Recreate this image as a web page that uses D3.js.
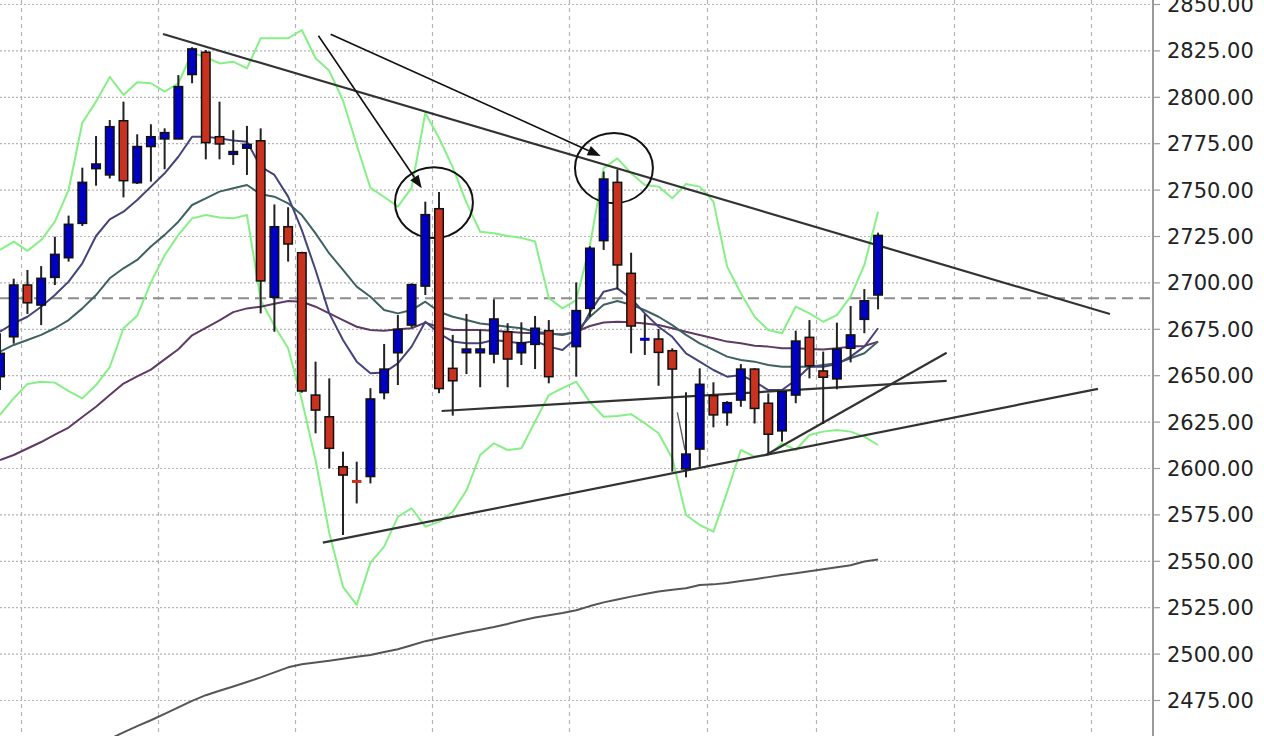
<!DOCTYPE html>
<html><head><meta charset="utf-8">
<script src="https://cdn.jsdelivr.net/npm/d3@7"></script>
<style>html,body{margin:0;padding:0;background:#fff;overflow:hidden}</style>
</head><body><svg id="c" width="1264" height="736"></svg>
<script>
// ---- data (index = trading session) ----
const open = [2649.2,2670.7,2698.6,2687.8,2702.7,2713.3,2731.8,2761.3,2757.9,2787.1,
2753.7,2773.2,2777.3,2777.3,2812,2824,2778.5,2769,2772.3,2776.3,
2692,2730,2716,2639.3,2627.6,2600.7,2593,2595.4,2640.6,2662.1,
2677,2698,2739.7,2653.7,2662.1,2662.1,2661.4,2673.4,2662.1,2666.6,
2674,null,2665.4,2686,2722.5,2753.9,2704.9,2669.2,2669.5,2663.2,
2599.5,2610.2,2639,2629.8,2636.6,2653.3,2634.9,2620,2639.3,2670.4,
2652.3,2648,2664.5,2680.1,2693.2];
const high = [2672.6,2702,2706.7,2708.8,2724.6,2736,2761.8,2778.9,2787.5,2797.4,
2779.8,2785.2,2783,2811.7,2826.7,2825.2,2797.4,2782,2784.3,2783,
2742,2740.5,2716.5,2657.3,2648.3,2608.8,2603.4,2643,2666.8,2682.4,
2699.5,2743.5,2748.7,2671.7,2683,2674.4,2690.9,2678,2678.5,2681.9,
2679.7,null,2700,2719.5,2759.7,2760.9,2716,2682.8,2674.9,2664.5,
2640.8,2653.7,2646.2,2636,2656,2653.8,2640.2,2641.5,2674,2679.7,
2662.7,2678.3,2687.3,2696.4,2726.8];
const low = [2642,2667,2683,2677,2698.6,2711.2,2730.4,2752.1,2756,2745.8,
2753,2754.3,2761,2777.3,2807.3,2766.3,2766.3,2763.3,2757.9,2683.3,
2673.4,2711.2,2640.6,2618.7,2599.8,2563.9,2580.9,2591.7,2637,2644.7,
2675.6,2693.2,2640.3,2628.2,2650.6,2643.5,2656.4,2643.5,2655.5,2653.3,
2645.6,null,2649.2,2681.5,2717.5,2696.3,2661.8,2660.9,2644.3,2598,
2595,2600.7,2621.9,2622.8,2633,2624,2607.9,2614.2,2634.9,2648.3,
2623.7,2642.4,2656.9,2672.6,2685.5];
const close = [2661.8,2698.6,2689,2702.2,2715.1,2731.3,2753.9,2763.8,2783.9,2754.8,
2773.2,2778.5,2780.7,2805.5,2825.8,2775.3,2774.6,2770.5,2774.4,2700.8,
2730,2720.7,2641.5,2631.2,2610.6,2596.2,2592.5,2637.2,2653.3,2674.7,
2698.8,2736.5,2642.8,2647,2664.1,2664.1,2680.3,2658.7,2667.5,2675.3,
2649.2,null,2684.8,2718.4,2755.7,2709.4,2676.5,2669.5,2662.3,2653.3,
2607.5,2645.1,2628.6,2635.2,2653.3,2632.1,2618.2,2641.1,2668.4,2655.1,
2648.9,2664.1,2671.7,2690.1,2725.3];

const bbUpper = [2717.5,2722,2717,2722.8,2732.7,2749.8,2786,2797.4,2810.7,2801,
2807.8,2807.3,2802.8,2807.3,2823.8,2821.3,2818,2818.9,2815.3,2831.5,
2831.5,2831.5,2836,2820.8,2814,2798,2774,2750.9,2746,2740.8,
2750.9,2791.3,2777.8,2762,2743,2727.3,2726.5,2725,2724,2722,
2691.6,2686,2690.5,2720,2761.5,2766.8,2758.8,2752.5,2751.6,2745.3,
2753,2751.6,2743.5,2708.5,2694.1,2681.5,2674.4,2672.6,2687,2683.3,
2678.8,2682.4,2692.3,2709.4,2738];
const bbLower = [2628.6,2637.6,2645.3,2646.5,2646,2641.4,2637.5,2644.7,2654.4,2675.3,
2682,2700,2714.6,2725.6,2734.5,2736.3,2735,2734.5,2736.3,2690.5,
2676.6,2664.5,2636.6,2604.3,2565,2536,2526.2,2549,2557.6,2573.7,
2578.3,2568.4,2571,2576.4,2588,2607,2613.3,2609.7,2610.6,2625,
2639.3,2643,2646.5,2635.5,2627.6,2628,2629,2624.1,2618.7,2605.2,
2574.7,2569.3,2565.7,2587,2609.7,2606.1,2607,2613.3,2609.7,2617.8,
2619.6,2620.5,2619.6,2616.9,2612.4];
const maFast = [2673.4,2678,2681.5,2686.9,2693.2,2700.4,2710.3,2725,2734,2738.1,
2744.4,2751.6,2758.8,2767.7,2778.5,2778.5,2777.6,2776.5,2775.8,2762.4,
2757.9,2746.2,2728.2,2706.7,2683.3,2669,2657.3,2651,2651.4,2656.4,
2665.4,2678.8,2672.6,2668.1,2667.2,2667.2,2669,2668.1,2667.2,2668.4,
2665.4,2663.6,2670,2684,2695,2696.8,2691.4,2683.3,2676.1,2670.7,
2661.8,2657.3,2652.8,2649.2,2650.1,2646.5,2642,2642,2647.4,2654.6,
2654.6,2656,2660,2665.4,2675.3];
const maMid = [2662.7,2666.3,2669,2671.7,2675.3,2679.7,2686,2693.2,2702.2,2707.6,
2712.1,2719.3,2725.6,2732.7,2741.7,2745.3,2748.9,2750.7,2752.5,2747.5,
2746.2,2742.6,2736.3,2726.4,2715.6,2706.7,2697.7,2692.3,2685.1,2683.3,
2685.1,2689.6,2684.2,2681.5,2679.7,2677.9,2677,2676.1,2675.3,2673.4,
2672.6,2671.7,2673.4,2681.5,2688,2690,2688,2685,2681.5,2677,
2671.7,2667.2,2663.6,2660,2658.2,2657.3,2655.5,2654.6,2654.6,2654.6,
2655.5,2656.4,2659.1,2661.8,2668.1];
const maSlow = [2604.3,2607,2610.5,2614,2618,2621.8,2627.5,2633,2639.3,2645.5,
2649.4,2653,2658.5,2664,2671.5,2675.5,2679.5,2684,2686,2686.9,
2688.5,2690,2689.6,2686.9,2683.3,2679.7,2676.1,2674.4,2674,2674.7,
2675.3,2678.3,2675.8,2674.4,2674.4,2674.4,2674,2673.4,2672.9,2672.6,
2672.2,2672,2673.4,2676.5,2678.4,2678.8,2678.5,2677.9,2677,2675.3,
2673.4,2671.7,2669.9,2668.1,2667.2,2665.9,2665.4,2664.5,2664.5,2664.1,
2663.9,2664.5,2665.4,2665.7,2668.1];
const maLong = [null,null,null,null,null,null,null,null,
2454,2457.6,2460.9,2464.1,2467.5,2471,2474.5,2477.6,2480,2482.3,
2484.7,2487.2,2489.9,2492.6,2494.3,2495.2,2496.2,2497.2,2498.3,2499.3,
2500.9,2502.3,2504.5,2506.7,2508.3,2509.9,2511.5,2512.9,2514.3,2516,
2517.8,2519.5,2520.7,2521.9,2523.4,2525.6,2527.6,2529.2,2530.7,2532.1,
2533.5,2534.4,2535.2,2537,2537.3,2538,2539.1,2540.1,2541.2,2542.3,
2543.3,2544.4,2545.5,2546.5,2547.6,2549.6,2550.7];

const yTicks = [2475,2500,2525,2550,2575,2600,2625,2650,2675,2700,2725,2750,2775,2800,2825,2850];
const xGridIdx = [1.5,11.5,21.5,31.5,41.5,51.5,59.5,69.5,79.5];
const refLevel = 2691.4;
// hand-drawn annotations in data coords [index, price]
const trendLines = [
  [[11.88,2833.8],[80.9,2683.0]],
  [[23.53,2559.8],[80.03,2642.6]],
  [[32.19,2630.7],[69.0,2646.9]],
  [[55.83,2607.0],[69.0,2662.1]]
];
const thinLines = [[[49.37,2630.0],[49.93,2609.7]]];
const arrows = [
  [[23.21,2832.9],[30.74,2750.7]],
  [[24.1,2833.7],[43.78,2768.1]]
];
const ellipses = [ // [cx index, cy price, rx index units, ry price units]
  [31.63,2743.0,2.84,19.1],
  [44.75,2761.6,2.84,18.9]
];

// ---- layout ----
const W = 1264, H = 736, axisX = 1153;
const svg = d3.select('#c');
const x = d3.scaleLinear().domain([0, 84.04]).range([0, axisX]);
const y = d3.scaleLinear().domain([2475, 2850]).range([700, 4]);

svg.append('defs').append('clipPath').attr('id','plot')
  .append('rect').attr('x',0).attr('y',0).attr('width',axisX).attr('height',H);

// grid
const grid = svg.append('g');
grid.selectAll('line.h').data(yTicks).join('line')
  .attr('x1',0).attr('x2',axisX).attr('y1',d=>y(d)+0.5).attr('y2',d=>y(d)+0.5)
  .attr('stroke','#b4b4b4').attr('stroke-width',1.2).attr('stroke-dasharray','2,2');
grid.selectAll('line.v').data(xGridIdx).join('line')
  .attr('x1',d=>Math.round(x(d))+0.5).attr('x2',d=>Math.round(x(d))+0.5).attr('y1',0).attr('y2',H)
  .attr('stroke','#b4b4b4').attr('stroke-width',1.2).attr('stroke-dasharray','4,4');

const plot = svg.append('g').attr('clip-path','url(#plot)');

// reference dashed line
plot.append('line').attr('x1',0).attr('x2',axisX).attr('y1',y(refLevel)).attr('y2',y(refLevel))
  .attr('stroke','#8c8c8c').attr('stroke-width',2).attr('stroke-dasharray','11,6');

const idx = d3.range(open.length);
const lineGen = arr => d3.line().defined(i=>arr[i]!=null).x(i=>x(i)).y(i=>y(arr[i]))(idx);
const series = [
  [maLong,'#555555',2],
  [bbUpper,'#86f086',2],
  [bbLower,'#86f086',2],
  [maSlow,'#5e3a64',2],
  [maMid,'#3e6262',2],
  [maFast,'#44447a',2]
];
series.forEach(([arr,col,w])=>{
  plot.append('path').attr('d',lineGen(arr)).attr('fill','none')
    .attr('stroke',col).attr('stroke-width',w).attr('stroke-linejoin','round');
});

// annotations
trendLines.forEach(([a,b])=>{
  plot.append('line').attr('x1',x(a[0])).attr('y1',y(a[1])).attr('x2',x(b[0])).attr('y2',y(b[1]))
    .attr('stroke','#333').attr('stroke-width',2.2);
});
thinLines.forEach(([a,b])=>{
  plot.append('line').attr('x1',x(a[0])).attr('y1',y(a[1])).attr('x2',x(b[0])).attr('y2',y(b[1]))
    .attr('stroke','#555').attr('stroke-width',1.3);
});
arrows.forEach(([a,b])=>{
  const x1=x(a[0]),y1=y(a[1]),x2=x(b[0]),y2=y(b[1]);
  const ang=Math.atan2(y2-y1,x2-x1), L=13, Wd=5;
  const bx=x2-L*Math.cos(ang), by=y2-L*Math.sin(ang);
  plot.append('line').attr('x1',x1).attr('y1',y1).attr('x2',bx).attr('y2',by)
    .attr('stroke','#111').attr('stroke-width',1.6);
  const px=-Math.sin(ang)*Wd, py=Math.cos(ang)*Wd;
  plot.append('polygon').attr('points',`${x2},${y2} ${bx+px},${by+py} ${bx-px},${by-py}`).attr('fill','#111');
});
ellipses.forEach(([cx,cy,rx,ry])=>{
  plot.append('ellipse').attr('cx',x(cx)).attr('cy',y(cy))
    .attr('rx',x(rx)-x(0)).attr('ry',y(cy-ry)-y(cy))
    .attr('fill','none').attr('stroke','#111').attr('stroke-width',2);
});

// candles
const bw = (x(1)-x(0))*0.62;
const cg = plot.append('g');
idx.filter(i=>open[i]!=null).forEach(i=>{
  const cx = x(i);
  const up = close[i] >= open[i];
  const col = up ? '#0000c4' : '#c8321e';
  cg.append('line').attr('x1',cx).attr('x2',cx).attr('y1',y(high[i])).attr('y2',y(low[i]))
    .attr('stroke','#222').attr('stroke-width',2);
  const top = y(Math.max(open[i],close[i])), bot = y(Math.min(open[i],close[i]));
  if (bot-top < 1.5) {
    const mid=(top+bot)/2;
    cg.append('rect').attr('x',cx-bw/2-0.5).attr('y',mid-1.5).attr('width',bw+1).attr('height',3).attr('fill',col);
  } else {
    cg.append('rect').attr('x',cx-bw/2).attr('y',top).attr('width',bw).attr('height',bot-top)
      .attr('fill',col).attr('stroke','#111').attr('stroke-width',1.5);
  }
});

// y axis
svg.append('line').attr('x1',axisX).attr('x2',axisX).attr('y1',0).attr('y2',H)
  .attr('stroke','#9a9a9a').attr('stroke-width',2);
const ax = svg.append('g').attr('transform',`translate(${axisX},0)`)
  .call(d3.axisRight(y).tickValues(yTicks).tickSize(7).tickPadding(7).tickFormat(d3.format('.2f')));
ax.select('.domain').remove();
ax.selectAll('.tick line').attr('stroke','#9a9a9a').attr('stroke-width',1.2);
ax.selectAll('.tick text').attr('fill','#222').attr('font-family','DejaVu Sans, sans-serif')
  .attr('font-size',21).attr('dy','0.36em');
</script></body></html>
